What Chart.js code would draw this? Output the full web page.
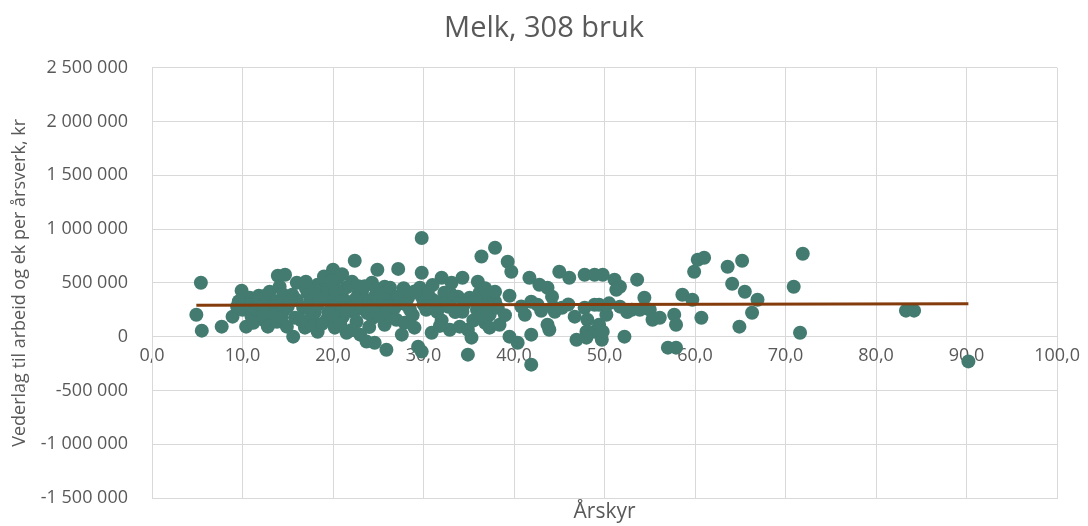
<!DOCTYPE html>
<html lang="no">
<head>
<meta charset="UTF-8">
<title>Melk, 308 bruk</title>
<style>
  body { margin: 0; background: #ffffff; }
  canvas { display: block; }
</style>
<script src="https://cdn.jsdelivr.net/npm/chart.js"></script>
</head>
<body>
<canvas id="chart" width="1088" height="526"></canvas>
<script>
// årskyr per bruk (x) and vederlag per årsverk in kr (y), same order
const arskyr = [
  4.9, 5.4, 5.5, 7.7, 8.9, 9.4, 9.9, 10.0, 10.4, 10.8, 11.0, 11.6, 12.1, 12.3, 12.8, 13.0, 13.2,
  13.8, 13.9, 14.1, 14.1, 14.9, 10.5, 11.2, 11.8, 12.5, 13.5, 14.5, 14.6, 14.3, 13.5, 11.5, 12.5, 9.6,
  14.7, 16.0, 18.3, 20.0, 20.5, 22.1, 22.4, 24.3, 24.9, 25.7, 27.2,
  15.5, 17.2, 19.1, 21.0, 23.2, 24.6, 26.0,
  15.0, 16.7, 18.3, 20.2, 21.9, 23.5, 25.4,
  15.8, 17.7, 19.3, 21.1, 22.6, 24.4, 25.7,
  15.6, 16.9, 18.3, 20.2, 21.5, 23.0, 23.7, 24.6, 25.9,
  16.0, 17.0, 17.5, 18.0, 18.8, 19.5, 19.8, 20.0, 20.5, 20.8, 21.5, 21.8, 22.3, 22.8, 23.0, 23.5,
  24.0, 24.0, 24.8, 25.2, 25.0, 26.3, 26.5, 19.0, 21.0, 17.8, 19.5, 22.0, 16.5, 18.8, 20.7, 23.8,
  15.3, 17.3, 18.6, 20.3, 21.3, 22.5, 24.3, 25.5, 26.0, 17.0, 18.0, 19.8, 22.8,
  29.8, 29.8, 32.0, 33.1, 34.3, 36.0, 36.4, 37.9, 29.6, 26.3, 27.2, 28.3, 29.8, 31.0, 32.3, 32.9,
  33.8, 35.1, 36.2, 37.0, 37.9, 26.8, 30.3, 31.5, 32.7, 34.3, 35.9, 37.3, 27.0, 27.9, 29.0, 30.9,
  32.9, 34.0, 34.9, 35.3, 36.8, 37.3, 27.6, 29.4, 29.8, 34.9,
  28.0, 28.8, 30.0, 30.5, 31.5, 32.0, 33.5, 34.5, 35.5, 36.5, 37.5, 29.0, 31.0, 33.0, 35.8, 36.8,
  28.5, 31.8, 27.8, 36.2, 37.0,
  39.3, 39.7, 41.7, 45.0, 46.1, 47.8, 48.9, 37.9, 39.5, 42.8, 43.7, 44.2, 41.9, 42.6, 38.2, 41.2,
  44.3, 44.5, 45.3, 46.7, 47.8, 48.9, 48.1, 38.4, 43.7, 43.9, 48.0, 48.9, 41.9, 39.5, 40.4, 46.9,
  48.0, 49.7, 41.9, 40.8, 43.0, 46.0, 39.0,
  49.8, 51.1, 51.7, 53.6, 51.3, 54.4, 49.4, 50.2, 51.7, 53.0, 53.9, 55.0, 55.3, 56.1, 57.7, 57.9,
  58.6, 59.7, 59.9, 60.3, 61.0, 60.7, 49.8, 52.2, 57.0, 57.9, 49.4, 50.5, 52.5,
  63.6, 65.2, 64.1, 65.5, 66.9, 66.3, 64.9, 70.9, 71.9, 71.6, 83.3, 84.2, 90.2
];
const vederlag = [
  204000, 502000, 56000, 93000, 186000, 280000, 427000, 251000, 93000, 362000, 186000, 251000, 297000, 158000, 93000, 418000, 279000,
  139000, 567000, 464000, 325000, 93000, 300000, 130000, 380000, 220000, 200000, 390000, 250000, 180000, 330000, 320000, 380000, 330000,
  576000, 502000, 483000, 622000, 548000, 511000, 706000, 502000, 622000, 464000, 630000,
  390000, 409000, 409000, 371000, 418000, 371000, 362000,
  279000, 269000, 297000, 269000, 279000, 251000, 269000,
  176000, 186000, 158000, 186000, 139000, 176000, 111000,
  0, 84000, 46000, 84000, 37000, 19000, -46000, -56000, -121000,
  340000, 450000, 330000, 230000, 380000, 470000, 330000, 200000, 420000, 120000, 460000, 320000, 230000, 400000, 300000, 470000,
  330000, 90000, 440000, 200000, 330000, 300000, 180000, 560000, 580000, 100000, 230000, 60000, 150000, 120000, 320000, 220000,
  330000, 260000, 350000, 440000, 240000, 350000, 280000, 400000, 230000, 510000, 430000, 520000, 470000,
  917000, 595000, 548000, 502000, 548000, 511000, 746000, 827000, 455000, 455000, 371000, 362000, 371000, 344000, 409000, 325000,
  371000, 362000, 409000, 344000, 325000, 269000, 251000, 232000, 279000, 232000, 251000, 204000, 158000, 130000, 84000, 37000,
  65000, 93000, 65000, -9000, 130000, 84000, 19000, -93000, -139000, -167000,
  300000, 200000, 300000, 400000, 320000, 150000, 230000, 300000, 150000, 280000, 400000, 420000, 480000, 400000, 350000, 450000,
  250000, 100000, 450000, 180000, 240000,
  697000, 604000, 548000, 604000, 548000, 576000, 576000, 418000, 381000, 483000, 455000, 371000, 325000, 297000, 269000, 204000,
  279000, 232000, 269000, 186000, 269000, 297000, 158000, 111000, 111000, 65000, 46000, 46000, 19000, 0, -56000, -28000,
  -9000, -28000, -260000, 280000, 240000, 300000, 200000,
  576000, 530000, 464000, 530000, 437000, 362000, 297000, 204000, 279000, 251000, 251000, 251000, 158000, 176000, 204000, 111000,
  390000, 344000, 604000, 715000, 734000, 176000, 46000, 0, -102000, -102000, 111000, 310000, 230000,
  650000, 706000, 492000, 418000, 344000, 223000, 93000, 464000, 771000, 37000, 242000, 242000, -230000
];

// linear trend line, end points
const trendX = [4.9, 90.2];
const trendY = [292000, 306000];

const xTickLabels = ['0,0', '10,0', '20,0', '30,0', '40,0', '50,0', '60,0', '70,0', '80,0', '90,0', '100,0'];
const yTickLabels = ['-1 500 000', '-1 000 000', '-500 000', '0', '500 000', '1 000 000', '1 500 000', '2 000 000', '2 500 000'];

const textGrey = '#595959';
const gridGrey = '#d9d9d9';
const fontName = "'Open Sans', sans-serif";

const points = arskyr.map((x, i) => ({ x: x, y: vederlag[i] }));
const trend = trendX.map((x, i) => ({ x: x, y: trendY[i] }));

new Chart(document.getElementById('chart'), {
  type: 'scatter',
  data: {
    datasets: [
      {
        label: 'Trend',
        data: trend,
        showLine: true,
        borderColor: '#843c0c',
        borderWidth: 3,
        pointRadius: 0
      },
      {
        label: 'Bruk',
        data: points,
        backgroundColor: '#437b70',
        borderWidth: 0,
        pointRadius: 7,
        pointHoverRadius: 7
      }
    ]
  },
  options: {
    responsive: false,
    animation: false,
    layout: { padding: 0 },
    plugins: {
      legend: { display: false },
      tooltip: { enabled: false },
      title: {
        display: true,
        text: 'Melk, 308 bruk',
        color: textGrey,
        font: { family: fontName, size: 29, weight: 'normal' },
        padding: { top: 11, bottom: 22 }
      }
    },
    scales: {
      x: {
        type: 'linear',
        position: 'bottom',
        min: 0,
        max: 100,
        ticks: { display: false, stepSize: 10 },
        grid: { color: gridGrey, lineWidth: 1, drawTicks: false },
        border: { color: gridGrey },
        title: {
          display: true,
          text: 'Årskyr',
          color: textGrey,
          font: { family: fontName, size: 21 },
          padding: { top: 2, bottom: 1 }
        },
        afterFit: s => { s.height = 28; }
      },
      // tick labels sit on the zero line, as in the original
      x2: {
        type: 'linear',
        position: { y: 0 },
        min: 0,
        max: 100,
        grid: { display: false, drawTicks: false },
        border: { display: false },
        ticks: {
          stepSize: 10,
          autoSkip: false,
          maxRotation: 0,
          padding: 8,
          color: textGrey,
          font: { family: fontName, size: 18 },
          callback: (v, i) => xTickLabels[i]
        }
      },
      y: {
        min: -1500000,
        max: 2500000,
        ticks: {
          stepSize: 500000,
          padding: 3,
          color: textGrey,
          font: { family: fontName, size: 18 },
          callback: (v, i) => yTickLabels[i]
        },
        grid: { color: gridGrey, lineWidth: 1, tickLength: 21, tickColor: 'rgba(0,0,0,0)' },
        border: { color: gridGrey },
        title: {
          display: true,
          text: 'Vederlag til arbeid og ek per årsverk, kr',
          color: textGrey,
          font: { family: fontName, size: 18 },
          padding: { top: 9, bottom: 0 }
        },
        afterFit: s => { s.width = 152; }
      },
      // empty right-hand margin so the title stays centred on the page
      yRight: {
        position: 'right',
        grid: { display: false },
        border: { display: false },
        ticks: { display: false },
        afterFit: s => { s.width = 30; }
      }
    }
  }
});
</script>
</body>
</html>
